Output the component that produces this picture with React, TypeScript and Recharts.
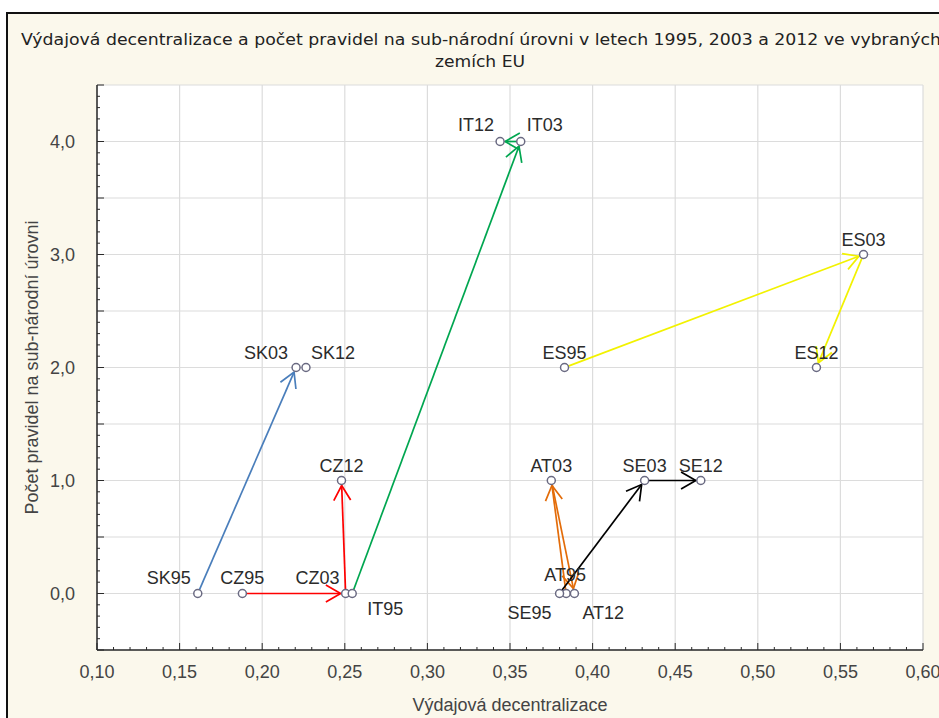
import { ScatterChart, Scatter, XAxis, YAxis, ReferenceLine, ReferenceArea } from 'recharts'

// points: country + year
const names = ['SK95', 'SK03', 'SK12', 'CZ95', 'CZ03', 'CZ12', 'IT95', 'IT03', 'IT12', 'ES95', 'ES03', 'ES12', 'AT95', 'AT03', 'AT12', 'SE95', 'SE03', 'SE12']
const decentralization = [0.161, 0.2205, 0.2265, 0.188, 0.2505, 0.248, 0.2545, 0.3565, 0.344, 0.383, 0.564, 0.5355, 0.384, 0.375, 0.389, 0.380, 0.4315, 0.4655]
const rules = [0, 2, 2, 0, 0, 1, 0, 4, 4, 2, 3, 2, 0, 1, 0, 0, 1, 1]

// arrows between points
const arrowFrom = ['SK95', 'CZ95', 'CZ03', 'IT95', 'IT03', 'ES95', 'ES03', 'AT95', 'AT03', 'SE95', 'SE03']
const arrowTo = ['SK03', 'CZ03', 'CZ12', 'IT03', 'IT12', 'ES03', 'ES12', 'AT03', 'AT12', 'SE03', 'SE12']

const xTicks = [0.1, 0.15, 0.2, 0.25, 0.3, 0.35, 0.4, 0.45, 0.5, 0.55, 0.6]
const yTicks = [0, 1, 2, 3, 4]
const yGrid = [-0.5, 0, 0.5, 1, 1.5, 2, 2.5, 3, 3.5, 4, 4.5]

const TITLE_1 = 'Výdajová decentralizace a počet pravidel na sub-národní úrovni v letech 1995, 2003 a 2012 ve vybraných'
const TITLE_2 = 'zemích EU'
const X_TITLE = 'Výdajová decentralizace'
const Y_TITLE = 'Počet pravidel na sub-národní úrovni'

const colors: Record<string, string> = {
  SK: '#4a7ebb',
  CZ: '#ff0000',
  IT: '#00a650',
  ES: '#f2f200',
  AT: '#e36c09',
  SE: '#000000',
}

// label placement: [dx, dy, anchor]
const labelPos: Record<string, [number, number, string]> = {
  SK95: [-7, -10, 'end'],
  SK03: [-8, -9, 'end'],
  SK12: [5, -9, 'start'],
  CZ95: [0, -10, 'middle'],
  CZ03: [-6, -10, 'end'],
  IT95: [15, 21, 'start'],
  IT12: [-6, -11, 'end'],
  IT03: [6, -11, 'start'],
  AT95: [-1, -13, 'middle'],
  SE95: [-8, 25, 'end'],
  AT12: [8, 25, 'start'],
}

const FONT = '"Liberation Sans", Arial, sans-serif'
const AXIS = '#2a2a2a'

const points = names.map((n, i) => ({ name: n, x: decentralization[i], y: rules[i] }))
const find = (n: string) => points.find((p) => p.name === n)!

const isMult = (v: number, step: number) => Math.abs(v / step - Math.round(v / step)) < 1e-6

// minor ticks (axis decoration only)
const xMinor: number[] = []
for (let i = 0; i <= 50; i++) xMinor.push(Math.round((0.1 + i * 0.01) * 1000) / 1000)
const yMinor: number[] = []
for (let i = 0; i <= 50; i++) yMinor.push(Math.round((-0.5 + i * 0.1) * 100) / 100)

const fmtX = (v: number) => v.toFixed(2).replace('.', ',')
const fmtY = (v: number) => v.toFixed(1).replace('.', ',')

const BottomTick = ({ x, y, payload }: any) => {
  const v = payload.value
  const major = isMult(v, 0.05)
  const labeled = xTicks.some((t) => Math.abs(t - v) < 1e-6)
  return (
    <g>
      <line x1={x} x2={x} y1={y} y2={y - (major ? 7 : 3)} stroke={AXIS} />
      {labeled && (
        <text x={x} y={y + 22} dy="0.35em" textAnchor="middle" fill="#444" fontSize={18} fontFamily={FONT}>
          {fmtX(v)}
        </text>
      )}
    </g>
  )
}

const TopTick = ({ x, y, payload }: any) => {
  const major = isMult(payload.value, 0.05)
  return <line x1={x} x2={x} y1={y} y2={y + (major ? 7 : 3)} stroke={AXIS} />
}

const LeftTick = ({ x, y, payload }: any) => {
  const v = payload.value
  const major = isMult(v, 0.5)
  const labeled = yTicks.some((t) => Math.abs(t - v) < 1e-6)
  return (
    <g>
      <line x1={x} x2={x + (major ? 7 : 3)} y1={y} y2={y} stroke={AXIS} />
      {labeled && (
        <text x={x - 22} y={y} dy="0.35em" textAnchor="end" fill="#444" fontSize={18} fontFamily={FONT}>
          {fmtY(v)}
        </text>
      )}
    </g>
  )
}

const RightTick = ({ x, y, payload }: any) => {
  const major = isMult(payload.value, 0.5)
  return <line x1={x} x2={x - (major ? 7 : 3)} y1={y} y2={y} stroke={AXIS} />
}

const arrowShape = (color: string) => (p: any) => {
  const { x1, y1, x2, y2 } = p
  const dx = x2 - x1
  const dy = y2 - y1
  const len = Math.hypot(dx, dy) || 1
  const ux = dx / len
  const uy = dy / len
  const sx = x1 + ux * 4
  const sy = y1 + uy * 4
  const ex = x2 - ux * 5
  const ey = y2 - uy * 5
  const a = Math.atan2(uy, ux)
  const head = 17
  const spread = 0.52
  const h1x = ex - head * Math.cos(a - spread)
  const h1y = ey - head * Math.sin(a - spread)
  const h2x = ex - head * Math.cos(a + spread)
  const h2y = ey - head * Math.sin(a + spread)
  return (
    <g>
      <line x1={sx} y1={sy} x2={ex} y2={ey} stroke={color} strokeWidth={1.7} />
      <polyline points={`${h1x},${h1y} ${ex},${ey} ${h2x},${h2y}`} fill="none" stroke={color} strokeWidth={1.7} />
    </g>
  )
}

const PointShape = (props: any) => {
  const { cx, cy, payload } = props
  const [dx, dy, anchor] = labelPos[payload.name] ?? [0, -9, 'middle']
  return (
    <g>
      <circle cx={cx} cy={cy} r={4} fill="#fff" stroke="#6a6a82" strokeWidth={1.5} />
      <text x={cx + dx} y={cy + dy} textAnchor={anchor as any} fill="#2b2b2b" fontSize={18} fontFamily={FONT}>
        {payload.name}
      </text>
    </g>
  )
}

export default function App() {
  return (
    <div style={{ position: 'absolute', left: 0, top: 0, width: 939, height: 718, background: '#fff', overflow: 'hidden' }}>
      <div
        style={{
          position: 'absolute',
          left: 6,
          top: 12,
          width: 960,
          height: 740,
          background: '#fbf8ec',
          borderLeft: '2px solid #111',
          borderTop: '2px solid #111',
        }}
      />
      <svg width={939} height={80} style={{ position: 'absolute', left: 0, top: 0 }}>
        <text x={481} y={45} textAnchor="middle" fontSize={16} fill="#222" fontFamily='"DejaVu Sans", sans-serif' textLength={920} lengthAdjust="spacingAndGlyphs">
          {TITLE_1}
        </text>
        <text x={480} y={67} textAnchor="middle" fontSize={16} fill="#222" fontFamily='"DejaVu Sans", sans-serif' textLength={90} lengthAdjust="spacingAndGlyphs">
          {TITLE_2}
        </text>
      </svg>
      <div style={{ position: 'absolute', left: 0, top: 0 }}>
        <ScatterChart width={939} height={718} margin={{ top: 85, right: 16, bottom: 0, left: 0 }}>
          <ReferenceArea x1={0.1} x2={0.6} y1={-0.5} y2={4.5} fill="#ffffff" fillOpacity={1} stroke="none" />
          {xTicks.map((t) => (
            <ReferenceLine key={'gx' + t} x={t} stroke="#dcdcdc" strokeWidth={1.2} />
          ))}
          {yGrid.map((t) => (
            <ReferenceLine key={'gy' + t} y={t} stroke="#dcdcdc" strokeWidth={1.2} />
          ))}
          <XAxis
            type="number"
            dataKey="x"
            domain={[0.1, 0.6]}
            ticks={xMinor}
            interval={0}
            height={68}
            tickSize={0}
            tickMargin={0}
            tickLine={false}
            tick={<BottomTick />}
            axisLine={{ stroke: AXIS, strokeWidth: 1.5 }}
            label={{ value: X_TITLE, position: 'insideBottom', offset: 7, fill: '#444', fontSize: 18, fontFamily: FONT }}
          />
          <XAxis
            xAxisId="top"
            orientation="top"
            type="number"
            domain={[0.1, 0.6]}
            ticks={xMinor}
            interval={0}
            height={0}
            tickSize={0}
            tickMargin={0}
            tickLine={false}
            tick={<TopTick />}
            axisLine={{ stroke: AXIS, strokeWidth: 1.5 }}
          />
          <YAxis
            type="number"
            dataKey="y"
            domain={[-0.5, 4.5]}
            ticks={yMinor}
            interval={0}
            width={97}
            tickSize={0}
            tickMargin={0}
            tickLine={false}
            tick={<LeftTick />}
            axisLine={{ stroke: AXIS, strokeWidth: 1.5 }}
            label={{ value: Y_TITLE, angle: -90, position: 'insideLeft', offset: 32, fill: '#444', fontSize: 18, fontFamily: FONT, style: { textAnchor: 'middle' } }}
          />
          <YAxis
            yAxisId="right"
            orientation="right"
            type="number"
            domain={[-0.5, 4.5]}
            ticks={yMinor}
            interval={0}
            width={0}
            tickSize={0}
            tickMargin={0}
            tickLine={false}
            tick={<RightTick />}
            axisLine={{ stroke: AXIS, strokeWidth: 1.5 }}
          />
          {arrowFrom.map((f, i) => {
            const a = find(f)
            const b = find(arrowTo[i])
            return (
              <ReferenceLine
                key={'ar' + i}
                segment={[{ x: a.x, y: a.y }, { x: b.x, y: b.y }]}
                shape={arrowShape(colors[f.slice(0, 2)])}
              />
            )
          })}
          <Scatter data={points} dataKey="y" isAnimationActive={false} shape={<PointShape />} />
        </ScatterChart>
      </div>
    </div>
  )
}
